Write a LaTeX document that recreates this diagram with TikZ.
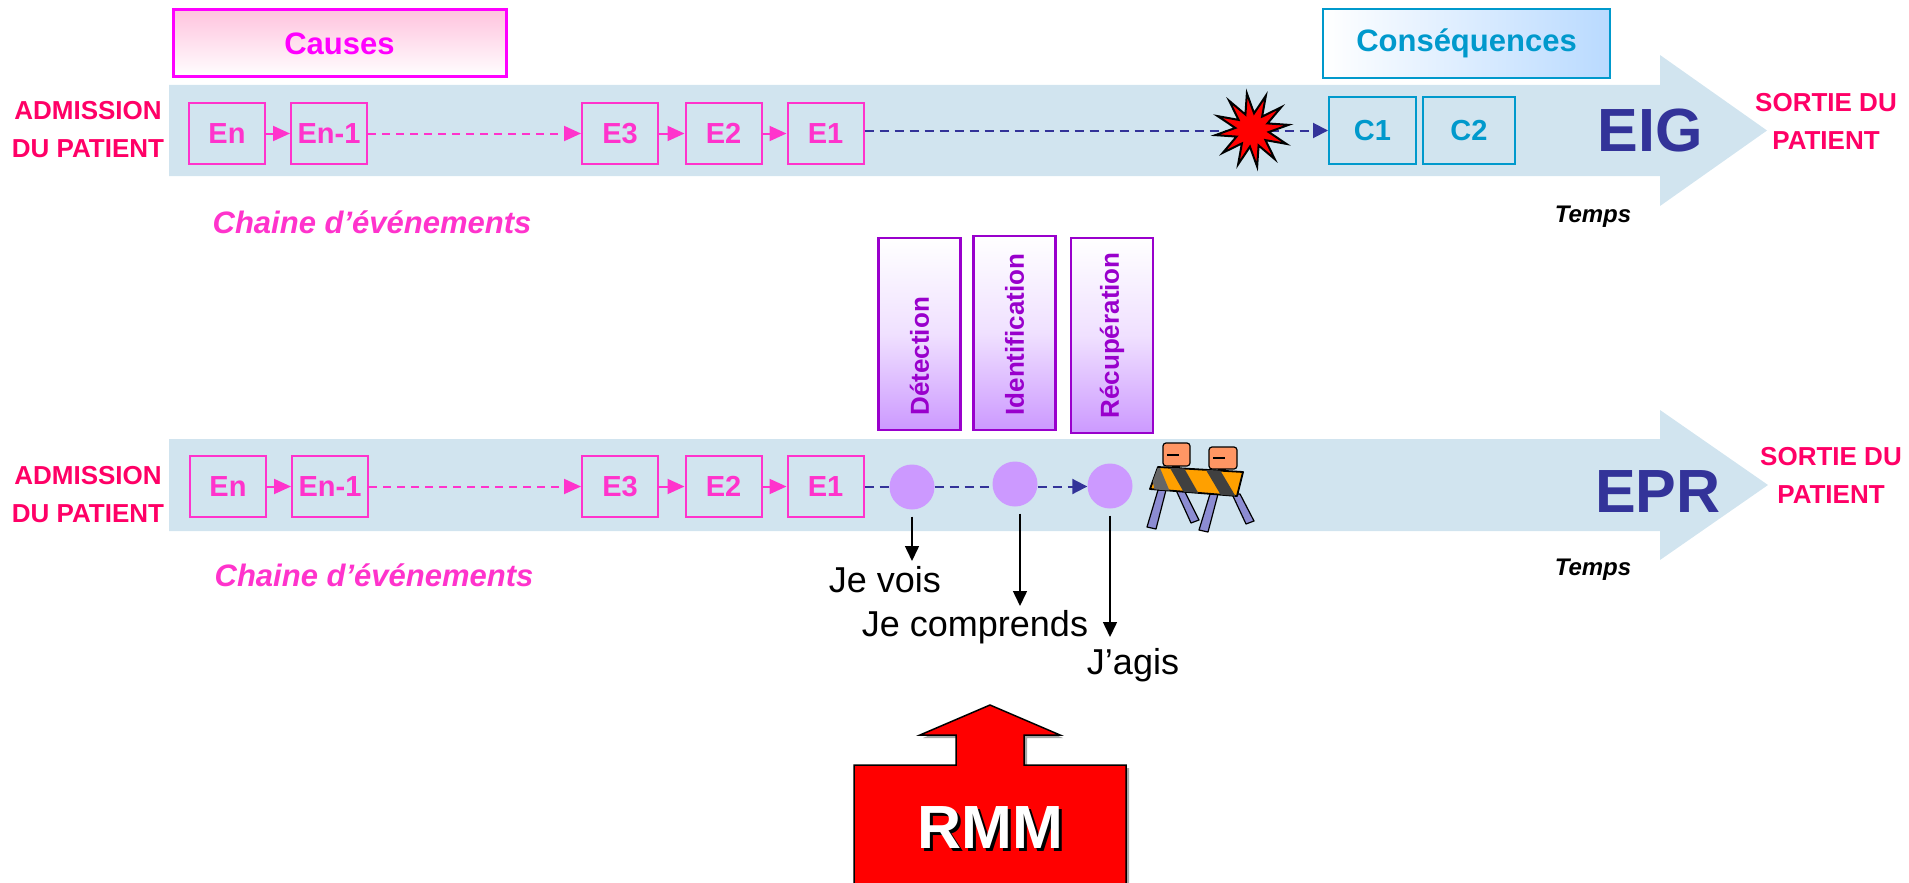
\documentclass[tikz,border=0pt]{standalone}
\usepackage{fontspec}
\setmainfont{Liberation Sans}
\usetikzlibrary{shapes.geometric,arrows.meta}

\definecolor{band}{RGB}{209,228,239}
\definecolor{chainpink}{RGB}{255,51,204}
\definecolor{hotpink}{RGB}{255,0,102}
\definecolor{causemag}{RGB}{255,0,255}
\definecolor{causefill}{RGB}{255,195,222}
\definecolor{cblue}{RGB}{0,153,204}
\definecolor{cfill}{RGB}{185,218,255}
\definecolor{navy}{RGB}{51,51,153}
\definecolor{purp}{RGB}{153,0,204}
\definecolor{lilac}{RGB}{204,153,255}
\definecolor{legcol}{RGB}{140,140,210}
\definecolor{lampcol}{RGB}{255,150,100}
\definecolor{barorange}{RGB}{255,160,0}

\begin{document}
\begin{tikzpicture}[x=1pt,y=-1pt,
  ebox/.style={draw=chainpink, line width=2pt, minimum width=76pt, minimum height=61pt,
    inner sep=0pt, text=chainpink, font=\fontsize{29}{29}\selectfont\bfseries},
  cbox/.style={draw=cblue, line width=2pt, minimum height=67pt,
    inner sep=0pt, text=cblue, font=\fontsize{29}{29}\selectfont\bfseries},
  endlabel/.style={text=hotpink, align=center, font=\fontsize{26}{38}\selectfont\bfseries},
  chainlabel/.style={text=chainpink, font=\fontsize{31}{31}\selectfont\bfseries\itshape},
  timelabel/.style={text=black, font=\fontsize{24}{24}\selectfont\bfseries\itshape},
  bigtag/.style={text=navy, font=\fontsize{61}{61}\selectfont\bfseries},
  phasebox/.style={draw=purp, line width=2.5pt, minimum width=82pt, inner sep=0pt,
    top color=white, bottom color=lilac, middle color=white!70!lilac},
  phasetext/.style={rotate=90, anchor=west, text=purp, font=\fontsize{26}{26}\selectfont\bfseries},
  stage/.style={circle, fill=lilac, minimum size=45pt, inner sep=0pt},
  saytext/.style={text=black, font=\fontsize{36}{36}\selectfont},
  solidlink/.style={chainpink, line width=2pt, -{Triangle[length=17pt,width=15pt]}},
  dashlink/.style={chainpink, line width=2pt, dash pattern=on 8pt off 6pt, -{Triangle[length=17pt,width=15pt]}},
  navylink/.style={navy, line width=2pt, dash pattern=on 9pt off 6pt},
  navyarrow/.style={navylink, -{Triangle[length=15pt,width=15pt]}},
  downarrow/.style={black, line width=1.5pt, -{Triangle[length=15pt,width=14pt]}}
]
\useasboundingbox (0,0) rectangle (1909,883);

% ---------- time bands ----------
\fill[band] (169,85) -- (1660,85) -- (1660,55) -- (1767,130.5) -- (1660,206)
  -- (1660,176) -- (169,176) -- cycle;
\fill[band] (169,439) -- (1660,439) -- (1660,410) -- (1768,485) -- (1660,560)
  -- (1660,531) -- (169,531) -- cycle;

% ---------- upper timeline: EIG ----------
\node[draw=causemag, line width=3pt, minimum width=333pt, minimum height=67pt,
  top color=causefill, bottom color=white, text=causemag,
  font=\fontsize{31}{31}\selectfont\bfseries] (causes) at (339.5,43.5) {Causes};
\node[draw=cblue, line width=2.5pt, minimum width=287pt, minimum height=69pt,
  left color=white, right color=cfill, text=cblue,
  font=\fontsize{31}{31}\selectfont\bfseries] (consequences) at (1466.5,43.5) {Conséquences};

\node[endlabel] (admA) at (88,130) {ADMISSION\\DU PATIENT};
\node[endlabel] (sortA) at (1826,121) {SORTIE DU\\PATIENT};

\node[ebox] (EnA)  at (227,133.5) {En};
\node[ebox] (En1A) at (329,133.5) {En-1};
\node[ebox] (E3A)  at (620,133.5) {E3};
\node[ebox] (E2A)  at (723.5,133.5) {E2};
\node[ebox] (E1A)  at (825.5,133.5) {E1};
\node[cbox, minimum width=87pt] (C1) at (1372.5,130.5) {C1};
\node[cbox, minimum width=92pt] (C2) at (1469,130.5) {C2};

\draw[solidlink] (EnA) -- (En1A);
\draw[dashlink]  (En1A) -- (E3A);
\draw[solidlink] (E3A) -- (E2A);
\draw[solidlink] (E2A) -- (E1A);
\draw[navyarrow] (E1A.east |- C1.west) -- (C1.west);

\node[star, star points=12, star point ratio=2.2, minimum size=74pt, inner sep=0pt,
  rotate=8, fill=red, draw=black, line width=2pt] (boom) at (1252,130) {};

\node[bigtag] (eig) at (1650,131) {EIG};
\node[timelabel] (tempsA) at (1593,217) {Temps};
\node[chainlabel] (chainA) at (372,222) {Chaine d’événements};

% ---------- lower timeline: EPR ----------
\node[endlabel] (admB) at (88,495) {ADMISSION\\DU PATIENT};
\node[endlabel] (sortB) at (1831,475) {SORTIE DU\\PATIENT};

\node[ebox] (EnB)  at (228,486.5) {En};
\node[ebox] (En1B) at (330,486.5) {En-1};
\node[ebox] (E3B)  at (620,486.5) {E3};
\node[ebox] (E2B)  at (723.5,486.5) {E2};
\node[ebox] (E1B)  at (825.5,486.5) {E1};

\draw[solidlink] (EnB) -- (En1B);
\draw[dashlink]  (En1B) -- (E3B);
\draw[solidlink] (E3B) -- (E2B);
\draw[solidlink] (E2B) -- (E1B);

\node[stage] (see)  at (912,487) {};
\node[stage] (know) at (1015,484) {};
\node[stage] (act)  at (1110,486) {};
% dashed path along the band, kept level with E1
\draw[navylink]  (E1B.east) -- (see.west |- E1B.east);
\draw[navylink]  (see.east |- E1B.east) -- (know.west |- E1B.east);
\draw[navyarrow] (know.east |- E1B.east) -- (act.west |- E1B.east);

% phase boxes
\node[phasebox, minimum height=192pt] (detbox) at (919.5,334) {};
\node[phasebox, minimum height=194pt] (idbox)  at (1014.5,333) {};
\node[phasebox, minimum height=195pt] (recbox) at (1112,335.5) {};
\node[phasetext] (det) at (919.5,419) {Détection};
\node[phasetext] (ide) at (1014.5,419) {Identification};
\node[phasetext] (rec) at (1112,422) {Récupération};

% spoken steps
\node[saytext] (vois)  at (885,580) {Je vois};
\node[saytext] (comp)  at (975,627) {Je comprends};
\node[saytext] (agis)  at (1133,665) {J’agis};
\draw[downarrow, shorten <=7pt] (see.south) -- (see.south |- 0,561);
\draw[downarrow, shorten <=7pt] (know.south -| 1020,0) -- (1020,606);
\draw[downarrow, shorten <=7pt] (act.south) -- (act.south |- 0,637);

\node[bigtag] (epr) at (1658,492) {EPR};
\node[timelabel] (tempsB) at (1593,570) {Temps};
\node[chainlabel] (chainB) at (374,575) {Chaine d’événements};

% road barrier with warning lamps
\begin{scope}[line width=1.2pt, draw=black, line join=round]
  % legs
  \filldraw[fill=legcol] (1158,490) -- (1166,490) -- (1156,529) -- (1147,527) -- cycle;
  \filldraw[fill=legcol] (1176,490) -- (1184,490) -- (1199,520) -- (1191,523) -- cycle;
  \filldraw[fill=legcol] (1210,494) -- (1218,494) -- (1208,532) -- (1199,530) -- cycle;
  \filldraw[fill=legcol] (1232,494) -- (1240,494) -- (1254,521) -- (1246,524) -- cycle;
  % lamp posts
  \fill[black] (1172,462) rectangle (1180,472);
  \fill[black] (1218,464) rectangle (1226,474);
  % lamps
  \filldraw[fill=lampcol, rounded corners=3pt] (1163,443) rectangle (1190,466);
  \filldraw[fill=lampcol, rounded corners=3pt] (1209,447) rectangle (1237,469);
  \draw (1167,455) -- (1179,455);
  \draw (1213,458) -- (1225,458);
  % striped bar
  \filldraw[fill=barorange, line width=1.8pt] (1150,489) -- (1158,467) -- (1243,472) -- (1237,496) -- cycle;
  \begin{scope}
    \clip (1150,489) -- (1158,467) -- (1243,472) -- (1237,496) -- cycle;
    \fill[black!75] (1170,468) -- (1184,468) -- (1200,496) -- (1186,496) -- cycle;
    \fill[black!75] (1206,470) -- (1220,470) -- (1236,497) -- (1222,497) -- cycle;
    \fill[black!60] (1150,468) -- (1160,468) -- (1170,492) -- (1155,492) -- cycle;
  \end{scope}
\end{scope}

% ---------- RMM arrow ----------
\fill[gray!70] (857,886) -- (857,768) -- (959,768) -- (959,738) -- (923,738) -- (993,708)
  -- (1063,738) -- (1027,738) -- (1027,768) -- (1129,768) -- (1129,886) -- cycle;
\fill[red] (854,886) -- (854,765) -- (956,765) -- (956,735) -- (920,735) -- (990,705)
  -- (1060,735) -- (1024,735) -- (1024,765) -- (1126,765) -- (1126,886) -- cycle;
\draw[black, line width=1.5pt, line join=miter] (854,886) -- (854,765) -- (956,765) -- (956,735)
  -- (920,735) -- (990,705) -- (1060,735) -- (1024,735) -- (1024,765) -- (1126,765) -- (1126,886);
\node[text=black, font=\fontsize{61}{61}\selectfont\bfseries] (rmmshadow) at (993,831) {RMM};
\node[text=white, font=\fontsize{61}{61}\selectfont\bfseries] (rmm) at (990,828) {RMM};
\end{tikzpicture}
\end{document}
